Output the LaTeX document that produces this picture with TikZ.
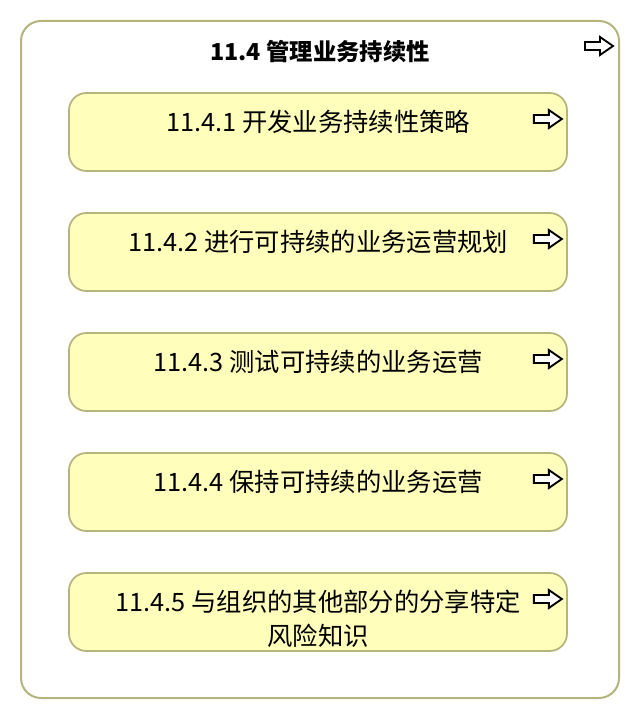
\documentclass[tikz,border=0pt]{standalone}
\usepackage{fontspec}
\setmainfont{Noto Sans CJK SC}
\usetikzlibrary{positioning}
\definecolor{TaskFill}{HTML}{FFFFBB}
\definecolor{TaskLine}{HTML}{B4B47C}

\tikzset{
  groupbox/.style={draw=TaskLine, line width=1.5pt, rounded corners=15pt, minimum width=448.5pt, minimum height=507.75pt},
  taskbox/.style={draw=TaskLine, fill=TaskFill, line width=1.3pt, rounded corners=13pt, minimum width=373.5pt, minimum height=58.5pt},
  tasktext/.style={inner sep=0pt, align=center, font=\fontsize{19}{25.5}\selectfont},
  grouptitle/.style={inner sep=0pt, font=\fontsize{17.5}{21}\selectfont\bfseries},
  arrowicon/.pic={\draw[line width=1.4pt, line join=miter, fill=white] (-14,-4) -- (1,-4) -- (1,-9) -- (14,0) -- (1,9) -- (1,4) -- (-14,4) -- cycle;}
}

\begin{document}
\begin{tikzpicture}[x=0.75pt, y=-0.75pt]
	\useasboundingbox (0,0) rectangle (640,720);
	
	\node[groupbox] (group) at (320,359.5) {};
	\node[grouptitle, below=15pt of group.north] (title) {11.4 管理业务持续性};
	\pic at ([shift={(-21,26)}]group.north east) {arrowicon};
	
	\node[taskbox] (t1) at (318,132) {};
	\node[taskbox] (t2) at (318,252) {};
	\node[taskbox] (t3) at (318,372) {};
	\node[taskbox] (t4) at (318,492) {};
	\node[taskbox] (t5) at (318,612) {};
	
	\node[tasktext, below=13pt of t1.north] (l1) {11.4.1 开发业务持续性策略};
	\node[tasktext, below=13pt of t2.north] (l2) {11.4.2 进行可持续的业务运营规划};
	\node[tasktext, below=13pt of t3.north] (l3) {11.4.3 测试可持续的业务运营};
	\node[tasktext, below=13pt of t4.north] (l4) {11.4.4 保持可持续的业务运营};
	\node[tasktext, below=13pt of t5.north] (l5) {11.4.5 与组织的其他部分的分享特定\\风险知识};
	
	\pic at ([shift={(-20,-13)}]t1.east) {arrowicon};
	\pic at ([shift={(-20,-13)}]t2.east) {arrowicon};
	\pic at ([shift={(-20,-13)}]t3.east) {arrowicon};
	\pic at ([shift={(-20,-13)}]t4.east) {arrowicon};
	\pic at ([shift={(-20,-13)}]t5.east) {arrowicon};
\end{tikzpicture}
\end{document}
